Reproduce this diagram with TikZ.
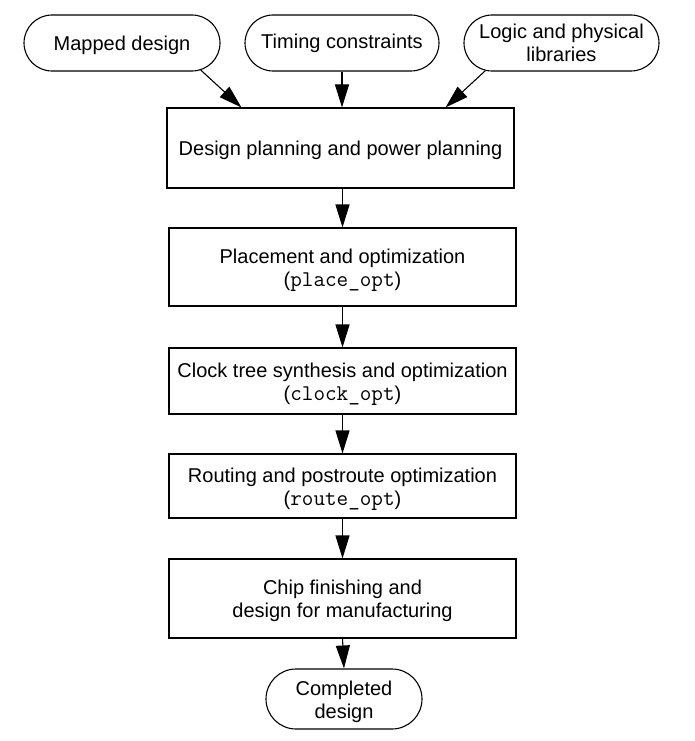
\documentclass[tikz,border=0pt]{standalone}
\usepackage{fontspec}
\setmainfont{Liberation Sans}
\usetikzlibrary{arrows.meta,shapes.misc,calc}
\newcommand{\cmdname}[1]{{\ttfamily\fontsize{22.5}{23}\selectfont #1}}
\newcommand{\topstrut}{\rule{0pt}{20pt}}
\begin{document}
\begin{tikzpicture}[x=1pt,y=-1pt,
  every node/.style={font=\fontsize{20}{23}\selectfont, align=center, inner sep=0pt, line width=1.1pt, text=black},
  term/.style={draw, rounded rectangle, minimum height=56pt},
  procbox/.style={draw, rectangle, minimum width=347pt},
  flow/.style={line width=1.1pt, -{Triangle[length=23pt,width=14pt]}}]
\useasboundingbox (0,0) rectangle (695,741);
% top inputs
\node[term, minimum width=196pt] (md) at (122,43) {\topstrut Mapped design};
\node[term, minimum width=194pt] (tc) at (342,43) {Timing constraints};
\node[term, minimum width=195pt] (lib) at (561.5,43) {Logic and physical\\libraries};
% process boxes
\node[procbox, minimum height=80pt] (b1) at (340.5,148) {\topstrut Design planning and power planning};
\node[procbox, minimum height=78pt] (b2) at (342.5,267) {\topstrut Placement and optimization\\(\cmdname{place\_opt})};
\node[procbox, minimum height=66pt] (b3) at (342.5,381) {\topstrut Clock tree synthesis and optimization\\(\cmdname{clock\_opt})};
\node[procbox, minimum height=64pt] (b4) at (342.5,486) {\topstrut Routing and postroute optimization\\(\cmdname{route\_opt})};
\node[procbox, minimum height=79pt] (b5) at (342.5,598.5) {\topstrut Chip finishing and\\design for manufacturing};
\node[term, minimum width=156pt, minimum height=60pt] (cd) at (344,699) {\topstrut Completed\\design};
% connectors
\draw[flow] (md.-19) -- ($(b1.north west)+(75,0)$);
\draw[flow] (tc.south) -- (tc.south |- b1.north);
\draw[flow] (lib.-160.6) -- ($(b1.north east)+(-69,0)$);
\draw[flow] (b1.south -| b2.north) -- (b2.north);
\draw[flow] (b2.south) -- (b3.north);
\draw[flow] (b3.south) -- (b4.north);
\draw[flow] (b4.south) -- (b5.north);
\draw[flow] (b5.south) -- (cd.north);
\end{tikzpicture}
\end{document}
